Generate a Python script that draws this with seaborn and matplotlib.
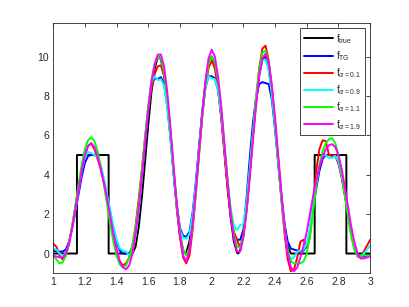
import numpy as np
import pandas as pd
import matplotlib
matplotlib.use("Agg")
import matplotlib.pyplot as plt
import seaborn as sns

# true signal (steps + cosine part)
x_true = [1.00, 1.15, 1.15, 1.35, 1.35, 1.50, 1.52, 1.54, 1.56, 1.58, 1.60, 1.62, 1.64,
          1.66, 1.667, 1.68, 1.70, 1.72, 1.74, 1.76, 1.78, 1.80, 1.82, 1.833, 1.84, 1.86, 1.88,
          1.90, 1.92, 1.94, 1.96, 1.98, 2.00, 2.02, 2.04, 2.06, 2.08, 2.10, 2.12,
          2.14, 2.16, 2.167, 2.18, 2.20, 2.22, 2.24, 2.26, 2.28, 2.30, 2.32, 2.333, 2.34, 2.36,
          2.38, 2.40, 2.42, 2.44, 2.46, 2.48, 2.50, 2.65, 2.65, 2.85, 2.85, 3.00]
f_true = [0, 0, 5, 5, 0, 0, 0.35, 1.36, 2.87, 4.69, 6.55, 8.19, 9.38,
          9.96, 10.0, 9.84, 9.05, 7.68, 5.94, 4.06, 2.32, 0.95, 0.16, 0.0, 0.04, 0.62, 1.81,
          3.45, 5.31, 7.13, 8.64, 9.65, 10.0, 9.65, 8.64, 7.13, 5.31, 3.45, 1.81,
          0.62, 0.04, 0.0, 0.16, 0.95, 2.32, 4.06, 5.94, 7.68, 9.05, 9.84, 10.0, 9.96, 9.38,
          8.19, 6.55, 4.69, 2.87, 1.36, 0.35, 0, 0, 5, 5, 0, 0]

# reconstructions, sampled every 0.02 from 1 to 3
x_rec = [round(1 + 0.02 * i, 2) for i in range(101)]

f_tg = [0.15, 0.1, 0.1, 0.1, 0.2, 0.6, 1.3, 2.1, 3.0, 3.9,
        4.6, 4.95, 5.0, 5.0, 4.9, 4.4, 3.7, 2.9, 2.1, 1.3,
        0.6, 0.15, 0.0, 0.0, 0.0, 0.3, 1.0, 2.2, 3.8, 5.6,
        7.3, 8.5, 8.9, 8.85, 8.95, 8.6, 7.5, 5.9, 4.1, 2.5,
        1.3, 0.9, 0.85, 1.1, 2.1, 3.6, 5.4, 7.1, 8.4, 9.0,
        9.0, 8.9, 8.3, 7.0, 5.3, 3.5, 2.0, 1.0, 0.7, 0.7,
        1.2, 2.8, 4.8, 6.6, 7.9, 8.6, 8.7, 8.65, 8.6, 7.8,
        6.3, 4.6, 2.9, 1.5, 0.6, 0.25, 0.2, 0.15, 0.1, 0.15,
        0.4, 1.2, 2.3, 3.3, 4.2, 4.8, 5.0, 5.0, 5.0, 4.95,
        4.6, 3.9, 3.0, 2.0, 1.1, 0.4, 0.0, -0.15, -0.15, -0.1,
        -0.1]

f_a01 = [0.5, 0.35, -0.1, -0.3, -0.1, 0.5, 1.4, 2.4, 3.4, 4.3,
         5.0, 5.45, 5.6, 5.3, 4.8, 4.3, 3.6, 2.8, 1.9, 1.0,
         0.2, -0.4, -0.6, -0.5, -0.2, 0.4, 1.4, 2.8, 4.3, 5.9,
         7.3, 8.4, 9.1, 9.5, 9.55, 9.0, 7.8, 6.1, 4.2, 2.3,
         0.8, -0.2, -0.5, -0.1, 1.2, 3.0, 5.0, 6.9, 8.4, 9.4,
         9.8, 9.4, 8.4, 6.9, 5.1, 3.3, 1.9, 1.1, 0.7, 0.3,
         0.9, 2.2, 4.0, 6.0, 7.9, 9.4, 10.4, 10.55, 9.8, 8.4,
         6.6, 4.6, 2.7, 1.0, -0.3, -0.9, -0.8, -0.2, 0.6, 0.7,
         0.3, 0.8, 2.6, 4.2, 5.3, 5.75, 5.7, 5.0, 4.95, 5.0,
         4.6, 3.9, 3.0, 2.0, 1.0, 0.3, -0.15, -0.2, 0.1, 0.4,
         0.7]

f_a09 = [0.25, 0.2, 0.0, -0.1, 0.0, 0.5, 1.3, 2.2, 3.2, 4.2,
         4.9, 5.15, 5.1, 5.0, 4.9, 4.5, 3.8, 3.0, 2.2, 1.4,
         0.7, 0.25, 0.15, 0.1, -0.1, 0.1, 0.9, 2.2, 3.9, 5.8,
         7.5, 8.7, 9.0, 8.8, 8.85, 8.5, 7.4, 5.8, 4.0, 2.4,
         1.2, 0.8, 0.75, 1.0, 2.0, 3.5, 5.3, 7.1, 8.4, 9.0,
         8.9, 8.85, 8.3, 7.1, 5.4, 3.7, 2.3, 1.4, 1.2, 1.45,
         1.5, 2.6, 4.3, 6.1, 7.9, 9.1, 9.8, 9.85, 9.3, 8.0,
         6.4, 4.6, 2.8, 1.3, 0.1, -0.3, -0.2, 0.1, 0.15, 0.2,
         0.5, 1.3, 2.5, 3.6, 4.5, 4.95, 5.0, 4.85, 4.85, 4.95,
         4.7, 4.0, 3.1, 2.1, 1.1, 0.3, -0.1, -0.15, 0.0, 0.2,
         0.4]

f_a11 = [-0.1, -0.3, -0.5, -0.45, -0.1, 0.5, 1.4, 2.4, 3.5, 4.5,
         5.3, 5.75, 5.9, 5.7, 5.2, 4.4, 3.5, 2.5, 1.5, 0.6,
         -0.1, -0.55, -0.7, -0.6, -0.2, 0.4, 1.3, 2.6, 4.2, 5.9,
         7.5, 8.8, 9.6, 10.0, 9.9, 9.2, 7.9, 6.2, 4.3, 2.5,
         1.1, 0.2, -0.1, 0.3, 1.4, 3.1, 5.0, 6.9, 8.5, 9.6,
         10.0, 9.7, 8.8, 7.4, 5.6, 3.8, 2.2, 1.0, 0.35, 0.3,
         0.9, 2.2, 4.0, 5.9, 7.8, 9.3, 10.2, 10.3, 9.7, 8.4,
         6.7, 4.8, 2.9, 1.3, 0.1, -0.4, -0.5, -0.5, -0.5, -0.4,
         0.0, 0.9, 2.1, 3.4, 4.5, 5.2, 5.6, 5.8, 5.85, 5.6,
         5.0, 4.1, 3.0, 1.9, 0.9, 0.2, -0.1, -0.1, -0.1, -0.1,
         -0.1]

f_a19 = [-0.1, -0.15, -0.2, -0.2, 0.0, 0.5, 1.3, 2.2, 3.2, 4.2,
         5.0, 5.45, 5.6, 5.4, 4.9, 4.3, 3.6, 2.8, 1.9, 1.0,
         0.2, -0.4, -0.7, -0.8, -0.6, 0.0, 1.0, 2.3, 3.9, 5.6,
         7.3, 8.7, 9.6, 10.1, 10.1, 9.5, 8.2, 6.4, 4.4, 2.5,
         1.0, -0.1, -0.4, 0.2, 1.5, 3.2, 5.1, 7.0, 8.7, 9.9,
         10.35, 10.0, 9.0, 7.5, 5.6, 3.7, 2.0, 0.8, 0.1, 0.1,
         0.8, 2.1, 3.8, 5.7, 7.5, 9.0, 9.9, 10.15, 9.7, 8.5,
         6.9, 5.0, 3.1, 1.4, 0.0, -0.7, -0.9, -0.7, -0.2, 0.4,
         1.1, 2.0, 2.9, 3.7, 4.4, 4.9, 5.3, 5.5, 5.55, 5.4,
         5.0, 4.3, 3.4, 2.4, 1.4, 0.6, 0.0, -0.25, -0.25, -0.2,
         -0.15]

series = [
    (x_true, f_true, "k", r"f$_{\mathregular{true}}$"),
    (x_rec, f_tg, (0, 0, 1), r"f$_{\mathregular{TG}}$"),
    (x_rec, f_a01, (1, 0, 0), r"f$_{\alpha\mathregular{=0.1}}$"),
    (x_rec, f_a09, (0, 1, 1), r"f$_{\alpha\mathregular{=0.9}}$"),
    (x_rec, f_a11, (0, 1, 0), r"f$_{\alpha\mathregular{=1.1}}$"),
    (x_rec, f_a19, (1, 0, 1), r"f$_{\alpha\mathregular{=1.9}}$"),
]

sns.set_style("white")
plt.rcParams["font.family"] = ["Liberation Sans", "DejaVu Sans"]

fig = plt.figure(figsize=(4.09, 3.07), dpi=100)
ax = fig.add_axes([0.13, 0.11, 0.775, 0.815])

for xs, ys, col, lab in series:
    sns.lineplot(x=xs, y=ys, color=col, label=lab, ax=ax, lw=1.4,
                 estimator=None, sort=False)

ax.set_xlim(1, 3)
ax.set_ylim(-1, 11.7)
ax.set_xticks(np.arange(1, 3.01, 0.2))
ax.set_xticklabels(["1", "1.2", "1.4", "1.6", "1.8", "2", "2.2", "2.4", "2.6", "2.8", "3"])
ax.set_yticks([0, 2, 4, 6, 8, 10])
ax.tick_params(direction="in", length=3, width=0.6, colors="#262626",
               labelsize=7.5, top=True, right=True, pad=3)
for sp in ax.spines.values():
    sp.set_color("#262626")
    sp.set_linewidth(0.6)

leg = ax.legend(loc="upper right", fontsize=7, frameon=True, fancybox=False,
                framealpha=1, handlelength=3.0, borderaxespad=0.5, labelspacing=0.35,
                handletextpad=0.35, borderpad=0.4)
leg.get_frame().set_edgecolor("#262626")
leg.get_frame().set_linewidth(0.6)

fig.savefig("out.png", dpi=100)
